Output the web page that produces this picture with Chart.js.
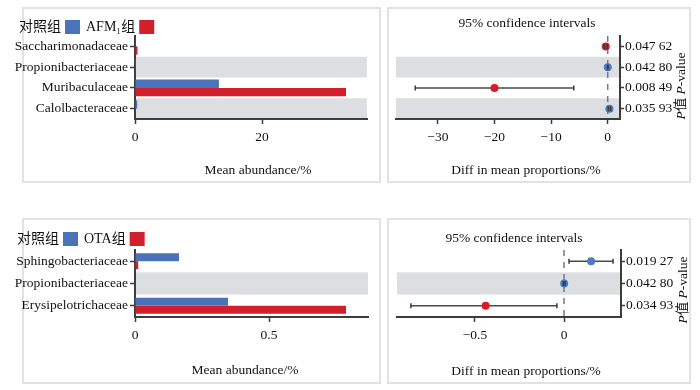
<!DOCTYPE html>
<html>
<head>
<meta charset="utf-8">
<script src="https://cdn.jsdelivr.net/npm/chart.js@4.4.0/dist/chart.umd.min.js"></script>
<style>
  body { margin: 0; background: #fff; }
  #page { position: relative; width: 700px; height: 390px; overflow: hidden; }
  .box { position: absolute; border: 2px solid #e2e2e2; box-sizing: border-box; }
  canvas { position: absolute; }
</style>
</head>
<body>
<div id="page">
  <div class="box" style="left:22px;top:7px;width:359px;height:176px"></div>
  <div class="box" style="left:387px;top:7px;width:304px;height:176px"></div>
  <div class="box" style="left:22px;top:218px;width:359px;height:166px"></div>
  <div class="box" style="left:387px;top:218px;width:304px;height:166px"></div>
  <canvas id="abundA" width="385" height="195" style="left:0;top:0"></canvas>
  <canvas id="diffA" width="315" height="195" style="left:385px;top:0"></canvas>
  <canvas id="abundB" width="385" height="195" style="left:0;top:195px"></canvas>
  <canvas id="diffB" width="315" height="195" style="left:385px;top:195px"></canvas>
</div>
<script>
// top pair: control vs AFM1
const groupsA = ['对照组', 'AFM₁组']
const familiesA = ['Saccharimonadaceae', 'Propionibacteriaceae', 'Muribaculaceae', 'Calolbacteraceae']
const controlA = [0.05, 0.02, 13.2, 0.35]
const afmA = [0.4, 0.01, 33.2, 0.05]
const diffA = [-0.35, 0.01, -20.0, 0.3]
const ciA = [[-0.6, -0.1], [-0.02, 0.04], [-34.0, -6.0], [0.1, 0.5]]
const pA = ['0.047 62', '0.042 80', '0.008 49', '0.035 93']
const abundTicksA = [0, 20]
const diffTicksA = [-30, -20, -10, 0]

// bottom pair: control vs OTA
const groupsB = ['对照组', 'OTA组']
const familiesB = ['Sphingobacteriaceae', 'Propionibacteriaceae', 'Erysipelotrichaceae']
const controlB = [0.164, 0.002, 0.347]
const otaB = [0.012, 0.001, 0.787]
const diffB = [0.152, 0.001, -0.44]
const ciB = [[0.028, 0.275], [-0.004, 0.006], [-0.86, -0.04]]
const pB = ['0.019 27', '0.042 80', '0.034 93']
const abundTicksB = [0, 0.5]
const diffTicksB = [-0.5, 0]

const serif = "'Liberation Serif', 'Noto Sans CJK SC', serif"
const blue = '#4b73b9'
const red = '#d11f2c'
const dotBlue = '#4a7bc6'
const dotRed = '#d81b24'
const band = '#dddee1'
const axis = '#3c3c3c'
const fs = 13.5

Chart.defaults.font.family = serif
Chart.defaults.font.size = fs
Chart.defaults.color = '#111'

const minus = v => String(v).replace('-', '\u2212')

// grey band behind every second row
const bands = {
  id: 'bands',
  beforeDraw(chart) {
    const {ctx, chartArea: a, scales: {y}} = chart
    const n = y.getLabels().length
    const h = (a.bottom - a.top) / n
    ctx.save()
    ctx.fillStyle = band
    for (let i = 1; i < n; i += 2) ctx.fillRect(a.left, a.top + i * h, a.right - a.left, h)
    ctx.restore()
  }
}

// dashed line at zero difference
const zeroLine = {
  id: 'zeroLine',
  beforeDatasetsDraw(chart) {
    const {ctx, chartArea: a, scales: {x}} = chart
    const px = x.getPixelForValue(0)
    ctx.save()
    ctx.strokeStyle = '#7a7a7a'
    ctx.lineWidth = 1.5
    ctx.setLineDash([6, 6])
    ctx.beginPath()
    ctx.moveTo(px, a.top)
    ctx.lineTo(px, a.bottom)
    ctx.stroke()
    ctx.restore()
  }
}

// legend with the label before the colour box
const boxLegend = {
  id: 'boxLegend',
  afterDraw(chart, args, opts) {
    const ctx = chart.ctx
    let x = opts.x
    ctx.save()
    ctx.font = '14px ' + serif
    ctx.textBaseline = 'middle'
    chart.data.datasets.forEach(ds => {
      ctx.fillStyle = '#111'
      ctx.fillText(ds.label, x, opts.y)
      x += ctx.measureText(ds.label).width + 4
      ctx.fillStyle = ds.backgroundColor
      ctx.fillRect(x, opts.y - 7, 15, 14)
      x += 21
    })
    ctx.restore()
  }
}

// titles placed where the original has them
const captions = {
  id: 'captions',
  afterDraw(chart, args, opts) {
    const ctx = chart.ctx
    for (const c of opts.items || []) {
      const parts = Array.isArray(c.text) ? c.text : [{t: c.text}]
      const fontOf = p => (p.italic ? 'italic ' : '') + fs + 'px ' + serif
      ctx.save()
      ctx.translate(c.x, c.y)
      if (c.rotate) ctx.rotate(c.rotate * Math.PI / 180)
      ctx.fillStyle = '#111'
      ctx.textBaseline = 'middle'
      let w = 0
      parts.forEach(p => { ctx.font = fontOf(p); w += ctx.measureText(p.t).width })
      let x = -w / 2
      parts.forEach(p => { ctx.font = fontOf(p); ctx.fillText(p.t, x, 0); x += ctx.measureText(p.t).width })
      ctx.restore()
    }
  }
}

const pTitle = [{t: 'P', italic: true}, {t: '值 '}, {t: 'P', italic: true}, {t: '-value'}]

const buildAbundance = (id, families, groups, a, b, ticks, max, g) => {
  return new Chart(document.getElementById(id), {
    type: 'bar',
    data: {
      labels: families,
      datasets: [
        {label: groups[0], data: a, backgroundColor: blue},
        {label: groups[1], data: b, backgroundColor: red}
      ]
    },
    options: {
      indexAxis: 'y',
      responsive: false,
      animation: false,
      datasets: {bar: {categoryPercentage: g.cat, barPercentage: 1}},
      layout: {padding: {top: g.top, right: g.right, left: 0, bottom: 0}},
      scales: {
        x: {
          type: 'linear', min: 0, max: max,
          afterBuildTicks: s => { s.ticks = ticks.map(v => ({value: v})) },
          afterFit: s => { s.height = g.xh },
          ticks: {padding: 5, callback: v => minus(v)},
          grid: {drawOnChartArea: false, tickLength: 5, tickColor: axis, tickWidth: 1.5},
          border: {color: axis, width: 2}
        },
        y: {
          afterFit: s => { s.width = 135 },
          ticks: {padding: 2},
          grid: {offset: false, drawOnChartArea: false, tickLength: 5, tickColor: axis, tickWidth: 1.5},
          border: {color: axis, width: 2}
        }
      },
      plugins: {
        legend: {display: false},
        tooltip: {enabled: false},
        boxLegend: {x: g.lx, y: g.ly},
        captions: {items: [{text: 'Mean abundance/%', x: g.tx, y: g.ty}]}
      }
    },
    plugins: [bands, boxLegend, captions]
  })
}

const buildDiff = (id, families, diff, ci, pvals, ticks, min, max, g) => {
  const ciLines = ci.map((c, i) => ({
    data: [{x: c[0], y: families[i]}, {x: c[1], y: families[i]}],
    borderColor: '#4a4a4a', borderWidth: 1.5, pointRadius: 0, order: 3
  }))
  const means = {
    data: diff.map((d, i) => ({x: d, y: families[i]})),
    showLine: false, pointRadius: 4, pointBorderWidth: 0,
    pointBackgroundColor: diff.map(d => d > 0 ? dotBlue : dotRed), order: 2
  }
  const caps = {
    data: ci.flatMap((c, i) => [{x: c[0], y: families[i]}, {x: c[1], y: families[i]}]),
    showLine: false, pointStyle: 'line', rotation: 90, pointRadius: 2.5,
    pointBorderColor: '#3a3a3a', pointBorderWidth: 1.5, order: 1
  }
  return new Chart(document.getElementById(id), {
    type: 'line',
    data: {datasets: [...ciLines, means, caps]},
    options: {
      responsive: false,
      animation: false,
      layout: {padding: {top: g.top, left: g.left, right: 0, bottom: 0}},
      scales: {
        x: {
          type: 'linear', min: min, max: max,
          afterBuildTicks: s => { s.ticks = ticks.map(v => ({value: v})) },
          afterFit: s => { s.height = g.xh },
          ticks: {padding: 5, callback: v => minus(v)},
          grid: {drawOnChartArea: false, tickLength: 5, tickColor: axis, tickWidth: 1.5},
          border: {color: axis, width: 2}
        },
        y: {type: 'category', labels: families, offset: true, display: false},
        p: {
          type: 'category', labels: pvals, position: 'right', offset: true,
          afterFit: s => { s.width = g.pw },
          ticks: {padding: 1},
          grid: {offset: false, drawOnChartArea: false, tickLength: 4, tickColor: axis, tickWidth: 1.5},
          border: {color: axis, width: 2}
        }
      },
      plugins: {
        legend: {display: false},
        tooltip: {enabled: false},
        captions: {items: [
          {text: '95% confidence intervals', x: g.hx, y: g.hy},
          {text: 'Diff in mean proportions/%', x: 141, y: g.ty},
          {text: pTitle, x: g.px, y: g.py, rotate: -90}
        ]}
      }
    },
    plugins: [bands, zeroLine, captions]
  })
}

buildAbundance('abundA', familiesA, groupsA, controlA, afmA, abundTicksA, 36.5,
  {cat: 0.8, top: 36, right: 18, xh: 76, lx: 19, ly: 27, tx: 258, ty: 170})
buildDiff('diffA', familiesA, diffA, ciA, pA, diffTicksA, -37.4, 2.17,
  {top: 36, left: 11, xh: 76, pw: 80, hx: 142, hy: 23, ty: 170, px: 296, py: 86})

buildAbundance('abundB', familiesB, groupsB, controlB, otaB, abundTicksB, 0.869,
  {cat: 0.72, top: 55, right: 17, xh: 73, lx: 17, ly: 44, tx: 245, ty: 175})
buildDiff('diffB', familiesB, diffB, ciB, pB, diffTicksB, -0.938, 0.32,
  {top: 55, left: 12, xh: 73, pw: 79, hx: 129, hy: 43, ty: 176, px: 298, py: 95})
</script>
</body>
</html>
